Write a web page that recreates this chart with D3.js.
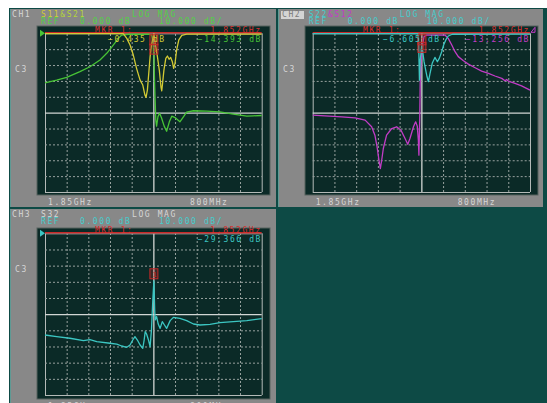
<!DOCTYPE html>
<html>
<head>
<meta charset="utf-8">
<script src="https://cdn.jsdelivr.net/npm/d3@7"></script>
<style>
html,body{margin:0;padding:0;background:#fff;overflow:hidden}
svg{display:block}
text{font-family:"DejaVu Sans Mono",monospace;font-size:8px;letter-spacing:1.6px}
</style>
</head>
<body>
<svg id="c" width="547" height="403"></svg>
<script>
// Sweep: 1.85 GHz centre, 800 MHz span, 10 dB/div from 0 dB reference
const startMHz = 1450, stopMHz = 2250, markerMHz = 1852;
const gridFreqMHz = [1450, 1530, 1610, 1690, 1770, 1850, 1930, 2010, 2090, 2170, 2250];
const gridDb = [0, -10, -20, -30, -40, -50, -60, -70, -80, -90, -100];
const sweepLabels = ["1.85GHz", "800MHz"];

// Marker 1 readouts (dB)
const s11Mkr = -0.435, s21Mkr = -14.393;
const s22Mkr = -6.605, s12Mkr = -13.256;
const s32Mkr = -29.366;

// Traces: [frequency MHz, magnitude dB]
const s11 = [[1450,-0.2],[1739,-0.2],[1752,-3.2],[1764,-7.4],[1776,-13.7],[1788,-22.1],[1801,-29.5],[1811,-32.6],[1819,-38.9],[1823,-40.4],[1828,-35.8],[1833,-25.3],[1838,-14.7],[1843,-7.4],[1848,-3.2],[1852,s11Mkr],[1857,-6.3],[1865,-14.7],[1872,-23.2],[1878,-33.7],[1881,-36.2],[1884,-31.6],[1889,-23.2],[1896,-15.8],[1902,-14.3],[1908,-16.4],[1914,-15.2],[1920,-17.9],[1925,-22.1],[1930,-18.9],[1936,-10.5],[1944,-4.2],[1955,-1.3],[1973,-0.5],[2250,-0.5]];

const s21 = [[1450,-31.2],[1493,-29.5],[1530,-27.8],[1579,-24.2],[1616,-21.1],[1653,-16.8],[1678,-12.6],[1702,-7.4],[1721,-3.2],[1733,-1.1],[1760,-0.6],[1800,-0.5],[1835,-0.6],[1844,-1.1],[1849,-6.5],[1852,s21Mkr],[1855,-33.7],[1859,-54.7],[1862,-58.5],[1867,-52.5],[1873,-50.4],[1880,-53.2],[1890,-58.5],[1899,-61.7],[1909,-55.8],[1918,-52.2],[1930,-53.1],[1948,-55.8],[1961,-52.6],[1973,-49.7],[1998,-48.8],[2047,-49.1],[2096,-49.5],[2145,-50.9],[2195,-52.2],[2219,-52.0],[2250,-51.8]];

const s22 = [[1450,-0.2],[1837,-0.2],[1840,-6.3],[1843,-29.5],[1846,-16.8],[1852,s22Mkr],[1855,-11.6],[1860,-17.9],[1866,-23.2],[1871,-27.4],[1876,-30.5],[1882,-25.3],[1890,-18.9],[1900,-15.2],[1909,-17.9],[1916,-15.8],[1925,-11.6],[1932,-7.4],[1940,-4.2],[1949,-1.7],[1964,-0.6],[2250,-0.5]];

const s12 = [[1450,-51.6],[1495,-52.0],[1557,-52.6],[1606,-53.3],[1643,-54.7],[1667,-58.9],[1679,-64.2],[1687,-71.6],[1694,-80],[1699,-85.3],[1704,-80],[1710,-72.6],[1722,-64.2],[1741,-60],[1759,-58.9],[1775,-61.1],[1790,-66.3],[1800,-69.9],[1808,-66.3],[1821,-58.9],[1829,-55.8],[1835,-58.5],[1839,-67.4],[1841,-76.8],[1844,-54.7],[1846,-29.5],[1849,-16.8],[1852,s12Mkr],[1855,-6.3],[1860,-2.1],[1870,-1.1],[1937,-1.1],[1949,-3.2],[1962,-7.4],[1974,-11.6],[1986,-14.7],[2005,-17.3],[2023,-19.4],[2048,-21.7],[2072,-23.8],[2097,-25.3],[2121,-26.9],[2146,-28.4],[2158,-29.9],[2164,-29.1],[2170,-30.1],[2195,-31.6],[2219,-33.1],[2250,-35.8]];

const s32 = [[1450,-62.9],[1493,-63.9],[1542,-64.9],[1592,-66.4],[1616,-65.8],[1641,-67.0],[1690,-68.0],[1715,-68.5],[1733,-69.7],[1752,-70.5],[1764,-69.1],[1774,-66.0],[1782,-63.9],[1791,-66.0],[1801,-69.1],[1811,-71.1],[1816,-66.0],[1820,-60.8],[1825,-62.3],[1832,-66.0],[1838,-70.1],[1843,-59.8],[1848,-41.2],[1852,s32Mkr],[1855,-47.4],[1857,-53.6],[1862,-51.5],[1868,-56.1],[1875,-58.8],[1883,-54.6],[1891,-56.7],[1899,-58.8],[1912,-54.0],[1924,-52.0],[1948,-52.6],[1973,-54.0],[1998,-56.1],[2022,-56.7],[2059,-56.3],[2096,-55.3],[2145,-54.6],[2195,-54.0],[2250,-52.8]];

const C = {
  yellow: "#d2ca34", green: "#48c436", teal: "#3cc6c2", magenta: "#c23cc6",
  red: "#c82828", text: "#d6d6d6", hdrGreen: "#52d046", hdrTeal: "#46cccc"
};

const panels = [
  {
    frame: [10, 9, 276, 207], plot: [37, 26, 270, 195], grid: [45, 33.3, 261.7, 192],
    chan: "CH1", chanBox: false,
    header: [["S11", C.yellow], ["&S21", "#b4d43a"]], hdrColor: C.hdrGreen, titleColor: C.hdrGreen,
    traces: [{data: s21, color: C.green, mkr: s21Mkr}, {data: s11, color: C.yellow, mkr: s11Mkr}],
    readouts: [{v: s11Mkr, color: C.yellow, x: 108, anchor: "start"}, {v: s21Mkr, color: C.green, x: 262, anchor: "end"}],
    refMark: C.green, sideY: 72, mkrLabelX: 95
  },
  {
    frame: [278, 9, 543, 207], plot: [305, 26, 538, 195], grid: [312.7, 33.3, 530, 192],
    chan: "CH2", chanBox: true,
    header: [["S22", C.hdrTeal], ["&S12", C.magenta]], hdrColor: C.hdrTeal, titleColor: C.hdrTeal,
    traces: [{data: s12, color: C.magenta, mkr: s12Mkr}, {data: s22, color: C.teal, mkr: s22Mkr}],
    readouts: [{v: s22Mkr, color: C.teal, x: 383, anchor: "start"}, {v: s12Mkr, color: C.magenta, x: 530, anchor: "end"}],
    refMark: null, sideY: 72, mkrLabelX: 363, tail: C.magenta
  },
  {
    frame: [10, 209, 276, 410], plot: [37, 228, 270, 399], grid: [45, 233.3, 261.7, 395],
    chan: "CH3", chanBox: false,
    header: [["S32", C.text]], hdrColor: C.hdrTeal, titleColor: C.text,
    traces: [{data: s32, color: C.teal, mkr: s32Mkr}],
    readouts: [{v: s32Mkr, color: C.teal, x: 262, anchor: "end"}],
    refMark: C.teal, sideY: 272, mkrLabelX: 95
  }
];

const svg = d3.select("#c");
svg.append("rect").attr("x", 9).attr("y", 8).attr("width", 538).attr("height", 395).attr("fill", "#0d4a45");

const fmt = d3.format(".3f");
const ghz = d3.format(".3f");

panels.forEach(p => {
  const g = svg.append("g");
  const [fx0, fy0, fx1, fy1] = p.frame;
  const [px0, py0, px1, py1] = p.plot;
  const [gx0, gy0, gx1, gy1] = p.grid;

  g.append("rect").attr("x", fx0).attr("y", fy0).attr("width", fx1 - fx0).attr("height", fy1 - fy0)
    .attr("fill", "#888888");
  g.append("rect").attr("x", fx0).attr("y", fy0).attr("width", 1).attr("height", fy1 - fy0).attr("fill", "#5f9a94");
  g.append("rect").attr("x", px0).attr("y", py0).attr("width", px1 - px0).attr("height", py1 - py0)
    .attr("fill", "#0b2a27").attr("stroke", "#56625f").attr("stroke-width", 1);

  const x = d3.scaleLinear().domain([startMHz, stopMHz]).range([gx0, gx1]);
  const y = d3.scaleLinear().domain([0, -100]).range([gy0, gy1]);

  const isEdgeX = d => d === startMHz || d === stopMHz;
  const isEdgeY = d => d === 0 || d === -100;
  const styleTick = (sel, edge, centre) => sel.selectAll(".tick line")
    .attr("stroke", d => centre(d) ? "#d2d6d4" : edge(d) ? "#b4bab8" : "#98a29f")
    .attr("stroke-width", d => centre(d) ? 1.3 : 1)
    .attr("stroke-dasharray", d => (edge(d) || centre(d)) ? null : "2,2");

  const xg = g.append("g").attr("transform", `translate(0,${gy1})`)
    .call(d3.axisBottom(x).tickValues(gridFreqMHz).tickSize(-(gy1 - gy0)).tickFormat(""));
  xg.select(".domain").remove();
  styleTick(xg, isEdgeX, d => d === 1850);

  const yg = g.append("g").attr("transform", `translate(${gx0},0)`)
    .call(d3.axisLeft(y).tickValues(gridDb).tickSize(-(gx1 - gx0)).tickFormat(""));
  yg.select(".domain").remove();
  styleTick(yg, isEdgeY, d => d === -50);

  // marker line along the reference
  g.append("line").attr("x1", gx0).attr("x2", gx1).attr("y1", y(0) - 0.5).attr("y2", y(0) - 0.5)
    .attr("stroke", C.red).attr("stroke-width", 1.4);

  if (p.refMark) {
    g.append("path").attr("d", `M${gx0 - 5},${y(0) - 3.5}L${gx0},${y(0)}L${gx0 - 5},${y(0) + 3.5}Z`)
      .attr("fill", p.refMark);
  }

  const line = d3.line().x(d => x(d[0])).y(d => y(d[1]));
  p.traces.forEach(t => {
    g.append("path").datum(t.data).attr("d", line).attr("fill", "none")
      .attr("stroke", t.color).attr("stroke-width", 1.3).attr("stroke-linejoin", "round");
  });

  // marker 1 symbols
  p.traces.forEach(t => {
    const mx = x(markerMHz), my = y(t.mkr);
    const top = Math.max(my - 12, gy0 + 1.5);
    g.append("rect").attr("x", mx - 4).attr("y", top).attr("width", 8).attr("height", 10)
      .attr("fill", "rgba(200,40,40,0.25)").attr("stroke", C.red).attr("stroke-width", 1);
    g.append("text").attr("x", mx + 0.8).attr("y", top + 8).attr("text-anchor", "middle")
      .attr("fill", C.red).style("letter-spacing", "0px").style("font-size", "7px").text("1");
  });

  // header
  const hy = fy0 + 8, ry = fy0 + 15;
  if (p.chanBox) {
    g.append("rect").attr("x", fx0 + 3).attr("y", fy0 + 2).attr("width", 23).attr("height", 8).attr("fill", "#d4d4d4");
    g.append("text").attr("x", fx0 + 4).attr("y", hy).attr("fill", "#7a7a7a").text(p.chan);
  } else {
    g.append("text").attr("x", fx0 + 2).attr("y", hy).attr("fill", C.text).text(p.chan);
  }
  const ht = g.append("text").attr("x", gx0 - 4).attr("y", hy);
  p.header.forEach(([s, col]) => ht.append("tspan").attr("fill", col).text(s));
  g.append("text").attr("x", gx0 + 87).attr("y", hy).attr("fill", p.titleColor).text("LOG MAG");
  g.append("text").attr("x", gx0 - 4).attr("y", ry).attr("fill", p.hdrColor).text("REF");
  g.append("text").attr("x", gx0 + 35).attr("y", ry).attr("fill", p.hdrColor).text(fmt(0) + " dB");
  g.append("text").attr("x", gx0 + 114).attr("y", ry).attr("fill", p.hdrColor).text(fmt(10) + " dB/");

  g.append("text").attr("x", fx0 + 5).attr("y", p.sideY).attr("fill", C.text).text("C3");

  // marker readout
  g.append("text").attr("x", p.mkrLabelX).attr("y", gy0 - 0.3).attr("fill", "#d83030").text("MKR  1:");
  g.append("text").attr("x", gx1).attr("y", gy0 - 0.3).attr("text-anchor", "end").attr("fill", "#d83030")
    .text(ghz(markerMHz / 1000) + "GHz");
  if (p.tail) {
    g.append("path").attr("d", `M${gx1 + 1},${gy0 - 1}L${gx1 + 5},${gy0 - 6}L${gx1 + 5},${gy0 - 1}Z`)
      .attr("fill", "none").attr("stroke", p.tail).attr("stroke-width", 1);
  }
  p.readouts.forEach(r => {
    g.append("text").attr("x", r.x).attr("y", gy0 + 8.5).attr("text-anchor", r.anchor)
      .attr("fill", r.color).text(fmt(r.v) + " dB");
  });

  // sweep annotation
  g.append("text").attr("x", gx0 + 3).attr("y", py1 + 10).attr("fill", C.text).text(sweepLabels[0]);
  g.append("text").attr("x", gx0 + 145).attr("y", py1 + 10).attr("fill", C.text).text(sweepLabels[1]);
});
</script>
</body>
</html>
